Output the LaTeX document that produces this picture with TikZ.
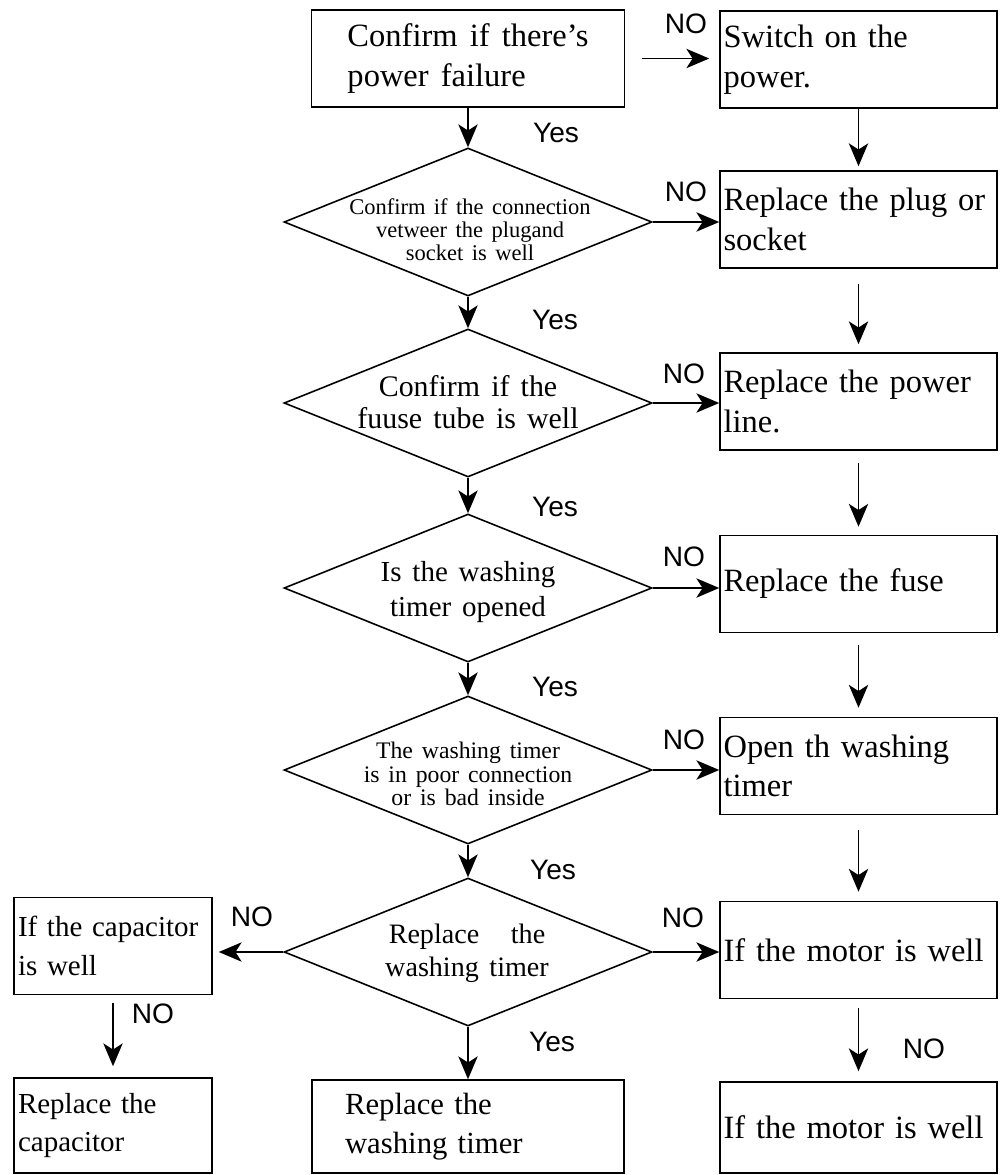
\documentclass[tikz,border=0pt]{standalone}
\usepackage{fontspec}
\setmainfont{Liberation Serif}[WordSpace=1.5]
\newfontfamily\labelfont{Liberation Sans}
\usetikzlibrary{shapes.geometric,arrows.meta}

\begin{document}
\begin{tikzpicture}[x = 0.02cm, y = -0.02cm,
		box/.style = {draw, line width = 0.9pt, align = left, inner ysep = 0pt},
		rbox/.style = {box, text width = 5.4cm, inner xsep = 0.07cm, minimum height = 1.94cm, font = \fontsize{18.5}{22.5}\selectfont},
		lbox/.style = {box, text width = 3.8cm, inner xsep = 0.08cm, minimum height = 1.94cm, font = \fontsize{16.5}{22}\selectfont},
		dia/.style = {draw, diamond, line width = 0.9pt, minimum width = 7.36cm, minimum height = 2.96cm, inner sep = 0pt},
		dtext/.style = {align = center, inner sep = 0pt},
		yn/.style = {font = \labelfont\fontsize{16}{16}\selectfont, inner sep = 0pt},
		arr/.style = {-{Stealth[length = 13pt, width = 11pt, inset = 3.5pt]}, line width = 1pt}]
	\useasboundingbox (0, 0) rectangle (1000, 1175);
	%%%%%%%%%%%%%
	\node[box, minimum width = 6.26cm, minimum height = 1.94cm, font = \fontsize{18.5}{22.5}\selectfont] (start) at (468, 58.5) {Confirm if there's\\power failure};
	\node[dia] (q1) at (468, 222) {};
	\node[dia] (q2) at (468, 403) {};
	\node[dia] (q3) at (468, 588) {};
	\node[dia] (q4) at (468, 770) {};
	\node[dia] (q5) at (468, 952) {};
	\node[dtext, font = \fontsize{12.8}{13.2}\selectfont] (q1t) at (470, 230) {Confirm if the connection\\vetweer the plugand\\socket is well};
	\node[dtext, font = \fontsize{17}{18.5}\selectfont] (q2t) at (468, 402) {Confirm if the\\fuuse tube is well};
	\node[dtext, font = \fontsize{16.5}{20}\selectfont] (q3t) at (468, 592) {Is the washing\\timer opened};
	\node[dtext, font = \fontsize{13.5}{13.2}\selectfont] (q4t) at (468, 774) {The washing timer\\is in poor connection\\or is bad inside};
	\node[dtext, font = \fontsize{16}{19}\selectfont] (q5t) at (467, 953) {Replace~~ the\\washing timer};
	%%%%%%%%%%%%%
	\node[rbox] (power) at (858.5, 59.5) {Switch on the\\power.};
	\node[rbox] (plug) at (858.5, 219.5) {Replace the plug or\\socket};
	\node[rbox] (line) at (858.5, 401.5) {Replace the power\\line.};
	\node[rbox] (fuse) at (858.5, 584) {Replace the fuse};
	\node[rbox] (open) at (858.5, 766) {Open th washing\\timer};
	\node[rbox] (motor) at (858.5, 950) {If the motor is well};
	\node[rbox, minimum height = 1.82cm] (motorb) at (858.5, 1127.5) {If the motor is well};
	\node[lbox] (cap) at (113, 946) {If the capacitor\\is well};
	\node[lbox, minimum height = 1.9cm] (capb) at (113, 1125.5) {Replace the\\capacitor};
	\node[box, text width = 4.92cm, inner xsep = 0.66cm, minimum height = 1.86cm, font = \fontsize{17.5}{22}\selectfont] (timer) at (468, 1126.5) {Replace the\\washing timer};
	%%%%%%%%%%%%%
	\draw[arr] (start.south) to (q1.north);
	\draw[arr] (q1.south) to (q2.north);
	\draw[arr] (q2.south) to (q3.north);
	\draw[arr] (q3.south) to (q4.north);
	\draw[arr] (q4.south) to (q5.north);
	\draw[arr] (q5.south) to (timer.north);
	\draw[arr, shorten <= 0.34cm, shorten >= 0.2cm] (start.east) to (start.east -| power.west);
	\draw[arr] (q1.east) to (q1.east -| plug.west);
	\draw[arr] (q2.east) to (q2.east -| line.west);
	\draw[arr] (q3.east) to (q3.east -| fuse.west);
	\draw[arr] (q4.east) to (q4.east -| open.west);
	\draw[arr] (q5.east) to (q5.east -| motor.west);
	\draw[arr, shorten >= 0.12cm] (q5.west) to (q5.west -| cap.east);
	\draw[arr, shorten <= 0.16cm, shorten >= 0.22cm] (cap) to (capb);
	%%%%%%%%%%%%%
	\draw[arr, shorten >= 0.08cm] (power) to (plug);
	\draw[arr, shorten <= 0.3cm, shorten >= 0.16cm] (plug) to (line);
	\draw[arr, shorten <= 0.24cm, shorten >= 0.16cm] (line) to (fuse);
	\draw[arr, shorten <= 0.24cm, shorten >= 0.18cm] (fuse) to (open);
	\draw[arr, shorten <= 0.3cm, shorten >= 0.18cm] (open) to (motor);
	\draw[arr, shorten <= 0.18cm, shorten >= 0.2cm] (motor) to (motorb);
	%%%%%%%%%%%%%
	\node[yn] (no1) at (686, 24) {NO};
	\node[yn] (no2) at (686, 192) {NO};
	\node[yn] (no3) at (684, 374) {NO};
	\node[yn] (no4) at (684, 557) {NO};
	\node[yn] (no5) at (684, 740) {NO};
	\node[yn] (no6) at (683, 918) {NO};
	\node[yn] (no7) at (252, 917) {NO};
	\node[yn] (no8) at (153, 1014) {NO};
	\node[yn] (no9) at (924, 1049) {NO};
	\node[yn] (yes1) at (556, 133) {Yes};
	\node[yn] (yes2) at (555, 320) {Yes};
	\node[yn] (yes3) at (555, 507) {Yes};
	\node[yn] (yes4) at (555, 687) {Yes};
	\node[yn] (yes5) at (553, 870) {Yes};
	\node[yn] (yes6) at (552, 1042) {Yes};
	%%%%%%%%%%%%%%
\end{tikzpicture}
\end{document}
